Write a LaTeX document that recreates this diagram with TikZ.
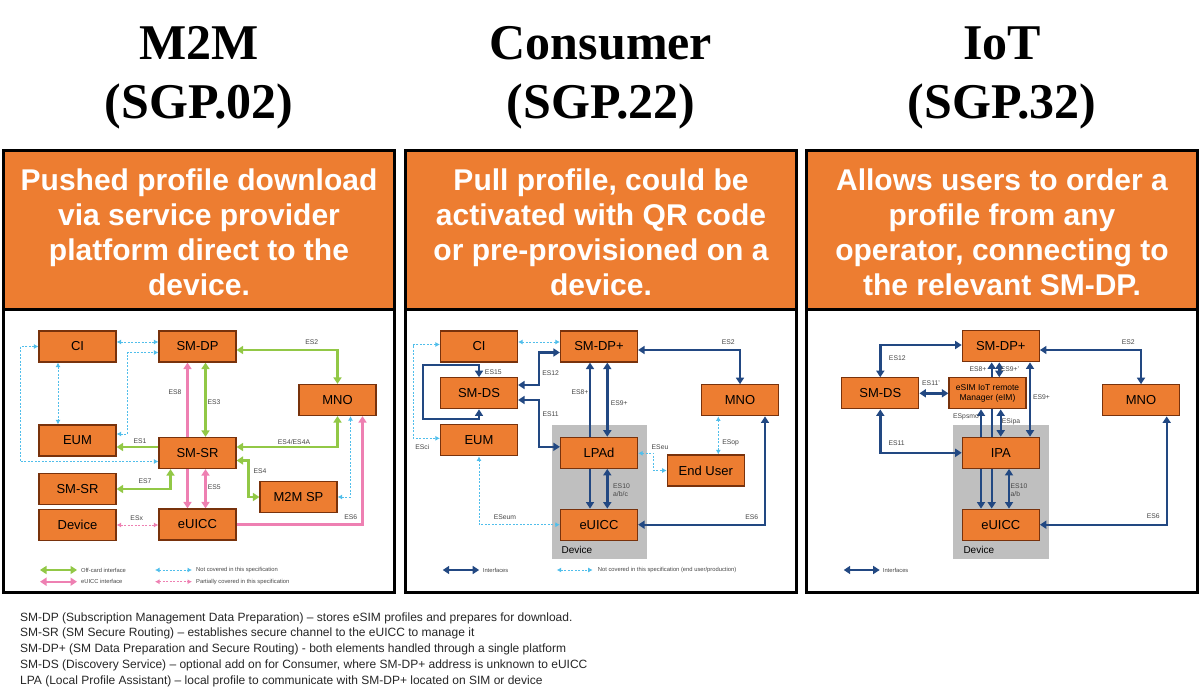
\documentclass[tikz,border=0pt]{standalone}
\usepackage{fontspec}
\setmainfont{Liberation Sans}
\newfontfamily\titlefont{Liberation Serif}
\usepackage{tikz}
\usetikzlibrary{arrows.meta, positioning, backgrounds}

\definecolor{elemorg}{RGB}{237,125,49}
\definecolor{elembrd}{RGB}{120,50,12}
\definecolor{offgreen}{RGB}{146,200,70}
\definecolor{cardpink}{RGB}{238,128,178}
\definecolor{notblue}{RGB}{80,190,235}
\definecolor{ifnavy}{RGB}{34,72,130}
\definecolor{devgray}{RGB}{191,191,191}
\definecolor{lblgray}{RGB}{70,70,70}

\begin{document}
\begin{tikzpicture}[x=1pt, y=-1pt,
  elem/.style={draw=elembrd, line width=1.2pt, fill=elemorg, minimum width=77pt, minimum height=31pt, inner sep=0pt, font=\fontsize{13}{13}\selectfont},
  iflbl/.style={font=\fontsize{6.8}{7.8}\selectfont, text=lblgray, inner sep=0pt, align=left},
  legtxt/.style={font=\fontsize{5.8}{6}\selectfont, text=lblgray, inner sep=0pt, anchor=west},
  offcard/.style={draw=offgreen, line width=2.4pt, >={Triangle[length=6.5pt,width=8pt]}, <->},
  cardif/.style={draw=cardpink, line width=2.4pt, >={Triangle[length=6.5pt,width=8pt]}, <->},
  iface/.style={draw=ifnavy, line width=2.4pt, >={Triangle[length=6.5pt,width=8pt]}, <->},
  notcov/.style={draw=notblue, line width=0.9pt, dash pattern=on 2pt off 1.5pt, >={Latex[length=4.5pt,width=5pt]}, <->},
  partial/.style={draw=cardpink, line width=0.9pt, dash pattern=on 2pt off 1.5pt, >={Latex[length=4.5pt,width=5pt]}, <->},
  headtxt/.style={text=white, font=\bfseries\fontsize{30}{35}\selectfont, align=center},
  ttl/.style={font=\titlefont\bfseries\fontsize{50}{50}\selectfont},
  note/.style={font=\fontsize{12}{14}\selectfont, text=black!85, anchor=base west, inner sep=0pt}]
\useasboundingbox (0,0) rectangle (1200,695);

% Panel frames
\foreach \px in {3,405,806} {
  \fill[elemorg] (\px,151) rectangle ++(391,158);
  \draw[line width=3pt] (\px,151) rectangle ++(391,441);
  \draw[line width=3pt] (\px,309) -- ++(391,0);
}

% Titles
\node[ttl] (tm2m) at (199,43) {M2M};
\node[ttl] (sm2m) at (199,106) {(SGP.02)};
\node[ttl] (tcon) at (601,43) {Consumer};
\node[ttl] (scon) at (601,106) {(SGP.22)};
\node[ttl] (tiot) at (1002,43) {IoT};
\node[ttl] (siot) at (1002,106) {(SGP.32)};

% Headers
\node[headtxt] (hm2m) at (199,232) {Pushed profile download\\via service provider\\platform direct to the\\device.};
\node[headtxt] (hcon) at (601,232) {Pull profile, could be\\activated with QR code\\or pre-provisioned on a\\device.};
\node[headtxt] (hiot) at (1002,232) {Allows users to order a\\profile from any\\operator, connecting to\\the relevant SM-DP.};

% ---------------- M2M (SGP.02) ----------------
\node[elem] (mci) at (77.5,346.5) {CI};
\node[elem] (msmdp) at (197.5,346.5) {SM-DP};
\node[elem] (mmno) at (337.5,400) {MNO};
\node[elem] (meum) at (77.5,440.5) {EUM};
\node[elem] (msmsr) at (197.5,453) {SM-SR};
\node[elem] (msmsrb) at (77.5,489) {SM-SR};
\node[elem] (mmsp) at (298.5,497) {M2M SP};
\node[elem] (mdev) at (77.5,525) {Device};
\node[elem] (meuicc) at (197.5,524.5) {eUICC};

\begin{scope}[on background layer]
\draw[offcard] ([yshift=-3.5]msmdp.east) -| (mmno.north);
\draw[offcard] ([xshift=8]msmdp.south) -- ([xshift=8]msmsr.north);
\draw[offcard] ([yshift=6]msmsr.east) -| (mmno.south);
\draw[offcard,->] ([yshift=6]msmsr.west) -- ([yshift=6]msmsr.west -| meum.east);
\draw[offcard] ([yshift=-7.5]msmsr.east) -- ++(12,0) |- (mmsp.west);
\draw[offcard] (msmsrb.east) -| ([xshift=-27]msmsr.south);
\draw[cardif] ([xshift=-10]msmdp.south) -- ([xshift=-10]meuicc.north);
\draw[cardif] ([xshift=8]msmsr.south) -- ([xshift=8]meuicc.north);
\draw[cardif,->] (meuicc.east) -| ([xshift=25]mmno.south);
\draw[partial] (mdev.east) -- (mdev.east -| meuicc.west);
\draw[notcov] ([yshift=4.5]mci.east) -- ([yshift=4.5]mci.east -| msmdp.west);
\draw[notcov] ([yshift=6.5]meum.east) -- ++(11,0) |- ([yshift=-6]msmdp.west);
\draw[notcov] ([xshift=-19.5]mci.south) -- ([xshift=-19.5]meum.north);
\draw[notcov] (mci.west) -- ++(-18,0) |- ([yshift=-8.5]msmsr.west);
\draw[notcov] (mmsp.east) -| ([xshift=13]mmno.south);
\end{scope}

\node[iflbl] (mes2) at (311.7,341.7) {ES2};
\node[iflbl] (mes8) at (175,391.7) {ES8};
\node[iflbl] (mes3) at (214,401.7) {ES3};
\node[iflbl] (mes1) at (140,440.7) {ES1};
\node[iflbl] (mes4a) at (294,441.7) {ES4/ES4A};
\node[iflbl] (mes4) at (260,470.7) {ES4};
\node[iflbl] (mes7) at (145,481) {ES7};
\node[iflbl] (mes5) at (214.3,486.7) {ES5};
\node[iflbl] (mesx) at (136.7,518.3) {ESx};
\node[iflbl] (mes6) at (350.7,516.7) {ES6};

\node[legtxt] (mleg1) at (81,570) {Off-card interface};
\node[legtxt] (mleg2) at (81,581.7) {eUICC interface};
\node[legtxt] (mleg3) at (196,570) {Not covered in this specification};
\node[legtxt] (mleg4) at (196,581.7) {Partially covered in this specification};
\draw[offcard] ([xshift=-41]mleg1.west) -- ([xshift=-4]mleg1.west);
\draw[cardif] ([xshift=-41]mleg2.west) -- ([xshift=-4]mleg2.west);
\draw[notcov] ([xshift=-41]mleg3.west) -- ([xshift=-4]mleg3.west);
\draw[partial] ([xshift=-41]mleg4.west) -- ([xshift=-4]mleg4.west);

% ---------------- Consumer (SGP.22) ----------------
\node[elem] (cci) at (479,346.5) {CI};
\node[elem] (csmdp) at (599,346.5) {SM-DP+};
\node[elem] (csmds) at (479,393.3) {SM-DS};
\node[elem] (cmno) at (740,400.3) {MNO};
\node[elem] (ceum) at (479,440.3) {EUM};
\node[elem] (clpa) at (599,452.8) {LPAd};
\node[elem] (cuser) at (705.8,470.5) {End User};
\node[elem] (ceuicc) at (599,524.7) {eUICC};
\node[font=\fontsize{10}{11}\selectfont, anchor=west, inner sep=0pt] (cdev) at (561.5,550) {Device};

\begin{scope}[on background layer]
\fill[devgray] (551.7,425) rectangle (647.3,559.3);
\draw[notcov] ([yshift=4.5]cci.east) -- ([yshift=4.5]cci.east -| csmdp.west);
\draw[iface] ([yshift=-3.5]csmdp.east) -| (cmno.north);
\draw[iface] ([yshift=8.3]csmds.east) -- ++(21,0) |- ([yshift=-6]csmdp.west);
\draw[iface] ([yshift=-6.7]csmds.east) -- ++(21,0) |- ([yshift=6]clpa.west);
\draw[iface] (csmds.south) |- ++(-56,9.5) |- ([yshift=12]csmds.north) -- (csmds.north);
\draw[iface] ([xshift=-9]csmdp.south) -- ([xshift=-9]ceuicc.north);
\draw[iface] ([xshift=8.3]csmdp.south) -- ([xshift=8.3]clpa.north);
\draw[iface] ([xshift=8.3]clpa.south) -- ([xshift=8.3]ceuicc.north);
\draw[notcov] ([yshift=2]cci.west) -- ++(-26.7,0) |- ([yshift=2]ceum.west);
\draw[notcov] (ceum.south) |- (ceuicc.west);
\draw[notcov] ([yshift=-0.5]clpa.east) -- ++(15.6,0) |- (cuser.west);
\draw[notcov] ([xshift=12.5]cuser.north) -- ([xshift=12.5]cuser.north |- cmno.south);
\draw[iface] (ceuicc.east) -| ([xshift=25]cmno.south);
\end{scope}

\node[iflbl] (ces2) at (728.3,342.3) {ES2};
\node[iflbl] (ces15) at (493.3,372.3) {ES15};
\node[iflbl] (ces12) at (550.7,373.3) {ES12};
\node[iflbl] (ces8) at (580,391.7) {ES8+};
\node[iflbl] (ces9) at (619.3,403.3) {ES9+};
\node[iflbl] (ces11) at (550.7,414.3) {ES11};
\node[iflbl] (cesci) at (422.3,446.7) {ESci};
\node[iflbl] (cesu) at (660,446.7) {ESeu};
\node[iflbl] (cesop) at (730.7,443.3) {ESop};
\node[iflbl] (ces10) at (621.5,490) {ES10\\a/b/c};
\node[iflbl] (ceseum) at (505,516.7) {ESeum};
\node[iflbl] (ces6) at (751.7,516.7) {ES6};

\node[legtxt] (cleg1) at (482.7,570) {Interfaces};
\node[legtxt] (cleg2) at (597.7,570) {Not covered in this specification (end user/production)};
\draw[iface] ([xshift=-40]cleg1.west) -- ([xshift=-3.5]cleg1.west);
\draw[notcov] ([xshift=-41]cleg2.west) -- ([xshift=-5]cleg2.west);

% ---------------- IoT (SGP.32) ----------------
\node[elem] (ismdp) at (1000.8,346.3) {SM-DP+};
\node[elem] (ismds) at (880.3,393.3) {SM-DS};
\node[elem, font=\fontsize{8.5}{10}\selectfont, align=center] (ieim) at (987.5,393.3) {eSIM IoT remote\\Manager (eIM)};
\node[elem] (imno) at (1141,400.3) {MNO};
\node[elem] (iipa) at (1000.8,452.8) {IPA};
\node[elem] (ieuicc) at (1000.8,524.7) {eUICC};
\node[font=\fontsize{10}{11}\selectfont, anchor=west, inner sep=0pt] (idev) at (963.3,550) {Device};

\begin{scope}[on background layer]
\fill[devgray] (953.3,425) rectangle (1048.7,559.3);
\draw[iface] ([yshift=-3.7]ismdp.east) -| (imno.north);
\draw[iface] ([yshift=1.3]ismdp.west) -| (ismds.north);
\draw[iface] (ismds.east) -- (ieim.west);
\draw[iface] (ismds.south) |- (iipa.west);
\draw[iface] ([xshift=-9.1]ismdp.south) -- ([xshift=-9.1]ieuicc.north);
\draw[iface] ([xshift=-1.5]ismdp.south) -- ([xshift=-1.5]ismdp.south |- ieim.north);
\draw[iface] ([xshift=-19.8]ieuicc.north) -- ([xshift=-19.8]ieuicc.north |- ieim.south);
\draw[iface] ([xshift=13.2]ieim.south) -- ([xshift=13.2]ieim.south |- iipa.north);
\draw[iface] ([xshift=29.2]ismdp.south) -- ([xshift=29.2]iipa.north);
\draw[iface] ([xshift=8.2]iipa.south) -- ([xshift=8.2]ieuicc.north);
\draw[iface] (ieuicc.east) -| ([xshift=25.7]imno.south);
\end{scope}

\node[iflbl] (ies2) at (1128.3,342.3) {ES2};
\node[iflbl] (ies12) at (897.3,358.3) {ES12};
\node[iflbl] (ies8) at (978,369.3) {ES8+};
\node[iflbl] (ies9b) at (1010,369.3) {ES9+'};
\node[iflbl] (ies11b) at (931,382.7) {ES11'};
\node[iflbl] (ies9) at (1041.5,397.3) {ES9+};
\node[iflbl] (iespsmo) at (966,417.3) {ESpsmo};
\node[iflbl] (iesipa) at (1011,421.7) {ESipa};
\node[iflbl] (ies11) at (896.7,442.7) {ES11};
\node[iflbl] (ies10) at (1019,490) {ES10\\a/b};
\node[iflbl] (ies6) at (1153.3,516) {ES6};

\node[legtxt] (ileg1) at (882.7,570) {Interfaces};
\draw[iface] ([xshift=-39]ileg1.west) -- ([xshift=-3]ileg1.west);

% Notes
\node[note] (n1) at (20,621) {SM-DP (Subscription Management Data Preparation) – stores eSIM profiles and prepares for download.};
\node[note] (n2) at (20,636.75) {SM-SR (SM Secure Routing) – establishes secure channel to the eUICC to manage it};
\node[note] (n3) at (20,652.5) {SM-DP+ (SM Data Preparation and Secure Routing) - both elements handled through a single platform};
\node[note] (n4) at (20,668.25) {SM-DS (Discovery Service) – optional add on for Consumer, where SM-DP+ address is unknown to eUICC};
\node[note] (n5) at (20,684) {LPA (Local Profile Assistant) – local profile to communicate with SM-DP+ located on SIM or device};
\end{tikzpicture}
\end{document}
